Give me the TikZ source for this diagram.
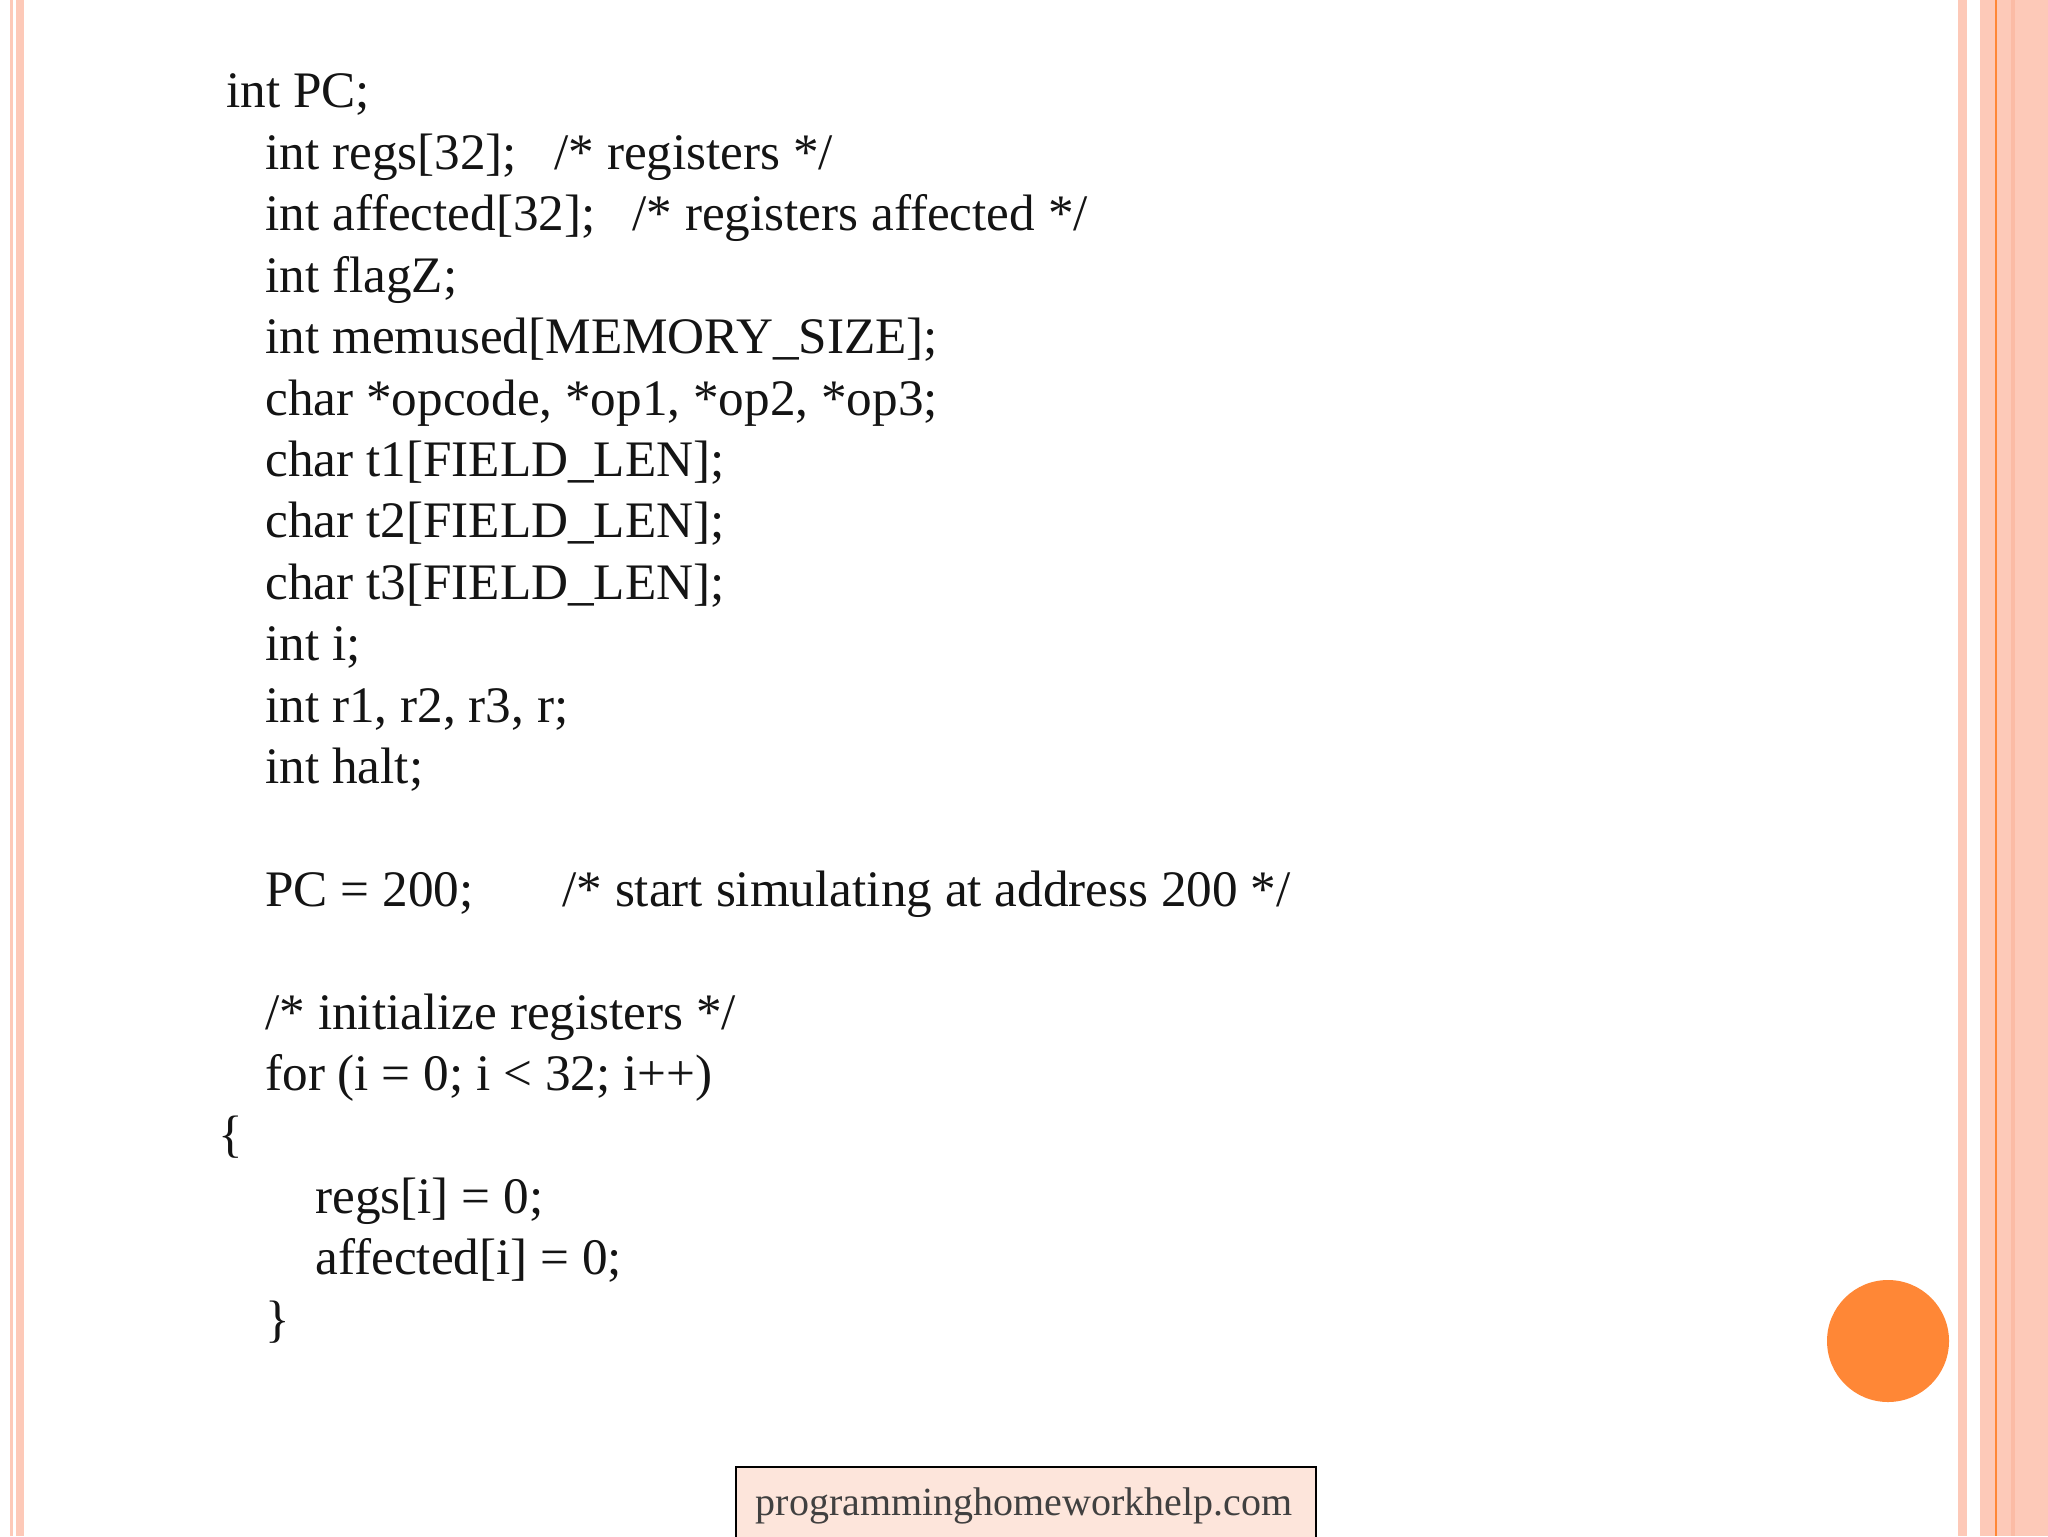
\documentclass[tikz,border=0pt]{standalone}
\usepackage{fontspec}
\setmainfont{Liberation Serif}
\definecolor{strip}{HTML}{FDC9B8}
\definecolor{stripd}{HTML}{FBBBA5}
\definecolor{dot}{HTML}{FF8736}
\definecolor{boxfill}{HTML}{FDE5DB}
\definecolor{txt}{HTML}{141414}
\begin{document}
\begin{tikzpicture}[x=0.5pt,y=-0.5pt,
  code/.style={anchor=base west,inner sep=0pt,font=\fontsize{25.6}{30}\selectfont,text=txt}]
\useasboundingbox (0,0) rectangle (2048,1536);
\fill[white] (0,0) rectangle (2048,1536);
\fill[strip] (10,0) rectangle (13,1536);
\fill[strip] (16,0) rectangle (24,1536);
\fill[strip] (1958,0) rectangle (1967,1536);
\fill[strip] (1980,0) rectangle (2048,1536);
\fill[stripd] (2011,0) rectangle (2015,1536);
\draw[dot,line width=1pt] (1996,0) -- (1996,1536);
\fill[dot] (1888,1341) circle (61);
\def\L#1{108+61.4*#1}
\node[code] (l0) at (226,{\L{0}}) {int PC;};
\node[code] (l1) at (265,{\L{1}}) {int regs[32];};
\node[code] (c1) at (554,{\L{1}}) {/* registers */};
\node[code] (l2) at (265,{\L{2}}) {int affected[32];};
\node[code] (c2) at (632,{\L{2}}) {/* registers affected */};
\node[code] (l3) at (265,{\L{3}}) {int flagZ;};
\node[code] (l4) at (265,{\L{4}}) {int memused[MEMORY\_SIZE];};
\node[code] (l5) at (265,{\L{5}}) {char *opcode, *op1, *op2, *op3;};
\node[code] (l6) at (265,{\L{6}}) {char t1[FIELD\_LEN];};
\node[code] (l7) at (265,{\L{7}}) {char t2[FIELD\_LEN];};
\node[code] (l8) at (265,{\L{8}}) {char t3[FIELD\_LEN];};
\node[code] (l9) at (265,{\L{9}}) {int i;};
\node[code] (l10) at (265,{\L{10}}) {int r1, r2, r3, r;};
\node[code] (l11) at (265,{\L{11}}) {int halt;};
\node[code] (l13) at (265,{\L{13}}) {PC = 200;};
\node[code] (c13) at (562,{\L{13}}) {/* start simulating at address 200 */};
\node[code] (l15) at (265,{\L{15}}) {/* initialize registers */};
\node[code] (l16) at (265,{\L{16}}) {for (i = 0; i < 32; i++)};
\node[code] (l17) at (218,{\L{17}}) {\{};
\node[code] (l18) at (315,{\L{18}}) {regs[i] = 0;};
\node[code] (l19) at (315,{\L{19}}) {affected[i] = 0;};
\node[code] (l20) at (265,{\L{20}}) {\}};
\draw[black,line width=1pt,fill=boxfill] (736,1467) rectangle (1316,1540);
\node[anchor=base,inner sep=0pt,font=\fontsize{20}{22}\selectfont,text=black!75] (web) at (1024,1515) {programminghomeworkhelp.com};
\end{tikzpicture}
\end{document}
